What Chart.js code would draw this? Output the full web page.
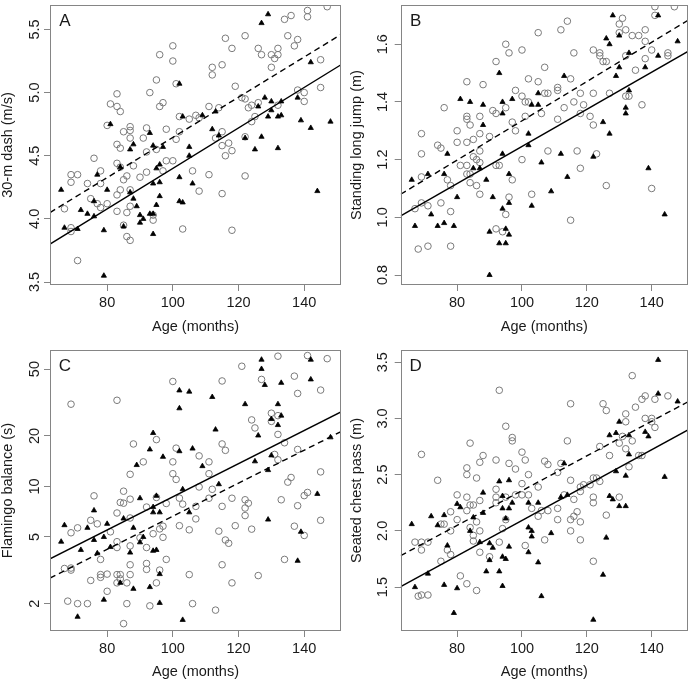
<!DOCTYPE html>
<html>
<head>
<meta charset="utf-8">
<script src="https://cdn.jsdelivr.net/npm/chart.js@4.4.1/dist/chart.umd.min.js"></script>
<style>
body{margin:0;background:#fff;}
#wrap{position:relative;width:693px;height:682px;overflow:hidden;background:#fff;}
canvas{position:absolute;}
</style>
</head>
<body>
<div id="wrap">
<canvas id="cA" width="346" height="345" style="left:0;top:0"></canvas>
<canvas id="cB" width="348" height="345" style="left:345px;top:0"></canvas>
<canvas id="cC" width="346" height="337" style="left:0;top:345px"></canvas>
<canvas id="cD" width="348" height="337" style="left:345px;top:345px"></canvas>
</div>
<script>
// ---- shared x axis ----
const xTicks = [80, 100, 120, 140];
const xRange = [62.6, 151.2];

// ---- A: 30-m dash ----
const ageCircA = [67,69,69,69,69,71,71,74,75,76,77,78,78,78,80,80,81,83,83,84,83,84,83,84,83,84,83,85,85,85,86,86,86,87,87,87,87,87,87,88,90,91,92,92,92,93,94,94,95,95,96,96,97,97,98,98,100,100,100,101,101,102,102,103,105,106,107,108,108,111,111,112,112,113,114,115,115,115,115,116,116,117,118,118,118,119,121,122,122,122,122,123,124,124,125,126,126,127,130,130,131,132,132,132,134,135,136,137,138,138,140,140,141,141,145,145,147];
const valCircA = [4.08,4.35,4.29,3.93,3.90,4.35,3.67,4.28,4.16,4.48,4.12,4.38,4.28,4.09,4.12,4.74,4.91,4.99,4.89,4.85,4.59,4.56,4.44,4.41,4.19,4.23,4.06,4.69,4.31,3.95,4.34,4.05,3.86,3.83,4.73,4.70,4.64,4.23,4.10,4.42,4.33,4.64,4.72,4.53,4.37,5.00,3.99,4.03,5.10,4.55,5.30,4.89,4.92,4.38,4.71,4.46,5.37,5.25,4.46,5.07,4.63,4.81,4.69,3.92,4.79,4.38,4.82,4.80,4.22,4.89,4.35,5.14,5.20,4.64,4.88,5.22,4.69,4.58,4.20,5.43,4.50,4.60,5.35,4.54,3.91,5.05,4.96,5.45,4.95,4.65,4.34,4.88,4.90,4.77,4.81,5.35,4.92,5.30,5.20,5.30,5.27,5.35,5.30,4.90,5.58,5.45,5.61,5.37,5.42,5.02,5.00,4.93,5.65,5.60,5.26,5.04,5.68];
const ageTriA = [66,67,71,72,74,76,76,77,79,79,80,81,84,85,87,87,88,88,89,90,90,91,93,93,94,94,94,94,95,95,96,96,96,97,102,102,102,103,103,105,105,106,109,112,113,114,122,125,126,127,127,128,129,129,130,130,132,132,133,133,138,139,142,142,144,148];
const valTriA = [4.23,3.93,3.92,4.07,4.04,4.02,4.14,4.35,3.91,3.55,4.23,4.75,4.41,3.94,4.55,4.21,4.59,4.16,4.10,4.03,3.97,4.00,4.68,4.04,4.58,4.28,4.04,3.88,4.40,4.11,4.43,4.29,4.18,4.57,5.07,4.33,4.14,4.81,4.13,4.57,4.50,4.28,4.82,4.71,4.85,4.66,4.64,4.55,4.89,5.55,4.65,4.96,5.62,4.81,4.93,4.86,4.81,4.56,4.93,4.82,4.96,4.78,4.72,5.24,4.22,4.77];
const solidA = [3.80, 5.22];
const dashedA = [4.05, 5.46];
const yTicksA = [3.5, 4.0, 4.5, 5.0, 5.5];
const yLabelsA = ["3.5", "4.0", "4.5", "5.0", "5.5"];

// ---- B: standing long jump ----
const ageCircB = [67,68,69,69,69,69,71,71,74,75,75,76,77,78,78,78,80,80,81,83,83,83,83,83,83,84,84,84,85,85,86,86,87,87,87,87,87,88,90,91,92,92,92,92,93,94,95,95,95,96,96,97,97,98,98,100,100,100,101,101,102,102,103,105,105,106,107,107,108,108,111,111,111,112,113,114,115,115,116,116,117,118,118,118,119,121,122,122,122,123,124,124,125,126,126,127,130,130,131,132,132,133,132,134,135,136,137,138,138,138,140,140,141,141,145,145,147];
const valCircB = [1.03,0.89,1.29,1.22,1.14,1.05,0.90,1.04,1.25,1.24,1.05,1.38,1.13,1.11,1.02,0.90,1.30,1.26,1.18,1.47,1.35,1.34,1.26,1.18,1.15,1.32,1.15,1.12,1.27,1.21,1.20,1.11,1.35,1.29,1.23,1.19,1.08,1.46,1.28,1.37,1.54,1.36,1.18,0.96,1.18,0.95,1.60,1.38,1.01,1.57,1.07,1.33,1.13,1.44,1.30,1.58,1.42,1.20,1.35,1.40,1.48,1.40,1.08,1.64,1.47,1.36,1.52,1.43,1.43,1.23,1.45,1.44,1.34,1.65,1.38,1.68,1.48,0.99,1.57,1.40,1.23,1.43,1.36,1.17,1.39,1.35,1.58,1.43,1.32,1.22,1.57,1.56,1.54,1.54,1.11,1.43,1.67,1.64,1.69,1.65,1.56,1.42,1.42,1.63,1.51,1.63,1.39,1.65,1.61,1.55,1.58,1.10,1.73,1.70,1.57,1.56,1.73];
const ageTriB = [66,67,71,72,74,76,76,77,79,80,81,84,85,87,88,88,89,90,90,91,93,93,94,94,94,94,95,95,96,96,96,97,102,102,103,103,105,105,106,109,112,113,114,122,125,126,127,127,128,129,130,130,132,132,133,133,138,139,142,142,144,148];
const valTriB = [1.13,0.97,1.15,1.01,0.97,1.15,0.98,1.22,0.97,1.07,1.41,1.40,1.17,1.17,1.39,1.32,1.13,0.95,0.80,1.07,1.50,0.91,1.40,1.36,1.22,1.03,0.96,0.91,1.15,1.05,0.94,1.41,1.29,1.25,1.39,1.04,1.39,1.43,1.19,1.09,1.22,1.49,1.14,1.21,1.33,1.62,1.60,1.29,1.70,1.49,1.63,1.52,1.36,1.38,1.57,1.44,1.52,1.17,1.70,1.56,1.01,1.61];
const solidB = [1.005, 1.575];
const dashedB = [1.08, 1.683];
const yTicksB = [0.8, 1.0, 1.2, 1.4, 1.6];
const yLabelsB = ["0.8", "1.0", "1.2", "1.4", "1.6"];

// ---- C: flamingo balance (log) ----
const ageCircC = [68,69,69,69,69,67,71,71,74,75,75,76,77,78,78,78,80,80,81,83,83,83,83,83,83,84,84,84,85,85,85,86,86,87,87,87,87,87,87,88,90,91,92,92,92,92,93,94,95,95,95,96,96,97,97,98,98,100,100,100,101,101,102,102,103,105,105,106,107,107,108,108,111,111,111,112,113,114,115,115,115,115,116,116,117,118,118,119,121,122,122,122,123,124,124,125,126,127,130,130,131,132,132,132,132,133,134,134,135,136,137,137,138,138,138,140,140,141,141,145,145,145,147];
const valCircC = [2.07,30.9,5.29,3.26,3.17,3.24,5.66,2.0,2.0,2.75,6.28,8.78,5.98,3.67,2.98,2.87,3.0,2.37,5.36,32.6,6.94,4.68,4.32,2.98,2.66,8.02,2.98,2.81,9.36,7.94,1.52,2.66,2.0,11.8,8.39,6.48,4.42,3.41,2.98,17.9,4.94,14.0,7.53,4.32,3.47,3.20,1.94,5.22,19.0,8.59,2.66,5.58,3.17,5.79,4.97,7.91,3.67,42.2,14.0,11.9,11.0,16.9,8.51,5.83,7.84,5.51,2.98,2.0,6.40,7.60,9.92,15.2,14.0,11.9,8.5,9.61,1.83,5.41,17.9,42.5,7.6,3.41,16.4,4.79,4.58,2.66,8.5,5.83,52.0,8.32,7.43,6.70,7.94,24.9,5.56,22.3,2.94,43.4,27.3,24.4,15.5,59.7,26.4,20.4,14.4,8.32,18.2,3.67,10.6,11.3,45.4,5.79,35.8,16.6,7.67,8.81,5.10,9.2,60.2,12.2,37.5,6.28,57.7];
const ageTriC = [66,67,71,72,74,76,76,77,79,79,80,81,84,85,87,88,88,89,90,90,91,93,93,94,94,94,94,95,95,96,96,96,97,102,102,102,103,103,105,105,106,109,112,113,114,122,125,126,127,127,128,129,129,130,130,132,132,133,133,138,139,142,142,144,148];
const valTriC = [4.68,5.87,1.67,4.18,5.66,7.19,4.79,3.99,4.99,2.11,5.98,4.35,2.66,6.43,4.03,5.66,2.45,13.4,8.5,4.64,4.99,16.6,2.51,20.8,7.53,7.0,4.13,8.78,4.18,7.0,3.0,2.02,15.0,37.3,29.2,16.2,9.61,1.60,36.7,7.0,16.8,13.2,34.1,21.8,10.3,30.9,14.1,20.1,56.9,50.1,40.2,12.5,6.34,25.2,15.3,30.9,23.2,26.4,41.4,3.60,5.36,56.9,43.4,9.02,19.6];
const solidC = [3.70, 27.8];
const dashedC = [2.84, 21.2];
const yTicksC = [2, 5, 10, 20, 50];
const yLabelsC = ["2", "5", "10", "20", "50"];

// ---- D: seated chest pass ----
const ageCircD = [67,68,69,69,69,69,71,71,74,75,75,76,77,78,78,78,80,80,81,83,83,83,83,83,84,84,84,85,85,85,86,86,86,87,87,87,87,88,90,92,92,92,92,93,93,94,95,95,95,96,97,97,98,98,100,100,100,101,101,102,102,103,105,105,106,107,107,108,108,111,111,111,112,113,114,115,115,115,115,116,116,117,118,118,118,118,119,121,122,122,122,122,123,124,124,125,126,126,127,130,130,131,132,132,132,133,134,134,135,136,137,137,138,138,140,140,141,141,145];
const valCircD = [1.90,1.42,1.90,1.83,2.68,1.43,1.90,1.43,2.45,1.73,2.06,2.06,1.83,2.17,2.00,1.79,2.32,2.10,1.60,2.56,2.50,2.30,2.18,1.53,2.78,2.23,2.03,2.23,1.96,1.91,2.47,2.08,1.47,2.61,2.27,2.00,1.81,2.67,1.77,2.63,2.37,2.30,2.25,3.25,1.90,2.02,2.93,2.30,2.10,2.60,2.83,2.80,2.55,2.32,2.70,2.42,2.32,2.63,1.87,2.50,2.32,2.20,2.39,2.13,2.18,2.62,1.92,2.59,2.18,2.52,2.20,2.10,2.60,2.32,2.80,3.13,2.45,2.10,2.00,2.28,2.13,2.17,2.39,2.35,2.08,1.92,2.41,2.41,2.47,2.30,2.25,1.73,2.47,2.75,2.44,3.13,3.07,2.14,2.67,2.78,2.30,2.84,3.04,2.97,2.73,2.57,2.80,3.38,3.10,2.67,2.67,3.17,3.20,3.00,2.97,3.00,3.17,2.92,3.20];
const ageTriD = [66,67,71,72,74,76,76,77,79,80,80,81,84,85,87,88,88,89,90,90,91,93,93,94,94,94,94,95,95,96,96,96,97,102,102,102,103,103,105,105,106,109,112,113,114,122,125,126,127,127,128,129,129,130,130,132,132,133,133,138,139,142,142,144,148];
const valTriD = [2.06,1.50,1.62,2.13,2.05,2.14,1.52,1.87,1.27,2.24,1.49,2.21,2.00,2.12,1.90,2.34,2.16,1.64,1.89,1.74,1.85,2.44,1.64,2.31,2.20,1.77,1.51,2.11,1.75,2.45,2.20,1.86,2.25,2.25,2.03,1.81,2.00,1.95,2.25,1.72,1.42,1.98,2.30,2.60,2.32,1.21,1.61,1.94,2.85,2.31,2.28,2.87,2.53,2.97,2.22,2.49,2.22,2.85,2.68,2.88,2.84,3.52,3.22,2.48,3.15];
const solidD = [1.505, 2.898];
const dashedD = [1.78, 3.148];
const yTicksD = [1.5, 2.0, 2.5, 3.0, 3.5];
const yLabelsD = ["1.5", "2.0", "2.5", "3.0", "3.5"];

Chart.defaults.font.family = "'Liberation Sans', Arial, sans-serif";
Chart.defaults.color = "#1a1a1a";

const textCol = "#1a1a1a";
const axisCol = "#858585";

// box round the plot, the panel letter and the rotated y tick labels
const framePlugin = {
  id: "frame",
  afterDraw(chart, args, o) {
    const ctx = chart.ctx;
    const a = chart.chartArea;
    const ys = chart.scales.y;
    ctx.save();
    ctx.strokeStyle = axisCol;
    ctx.lineWidth = 1;
    const l = Math.round(a.left) + 0.5, t = Math.round(a.top) + 0.5;
    const r = Math.round(a.right) - 0.5, b = Math.round(a.bottom) - 0.5;
    ctx.strokeRect(l, t, r - l, b - t);

    ctx.fillStyle = textCol;
    ctx.font = "14.5px 'Liberation Sans', Arial, sans-serif";
    ctx.textAlign = "center";
    ctx.textBaseline = "middle";
    o.ticks.forEach((v, i) => {
      const y = ys.getPixelForValue(v);
      ctx.save();
      ctx.translate(a.left - o.labelGap, y);
      ctx.rotate(-Math.PI / 2);
      ctx.fillText(o.labels[i], 0, 0);
      ctx.restore();
    });

    ctx.font = "17px 'Liberation Sans', Arial, sans-serif";
    ctx.fillText(o.letter, a.left + 15, a.top + 16);
    ctx.restore();
  }
};

function pts(ages, vals) {
  return ages.map((x, i) => ({x: x, y: vals[i]}));
}

function makePanel(id, p) {
  const tickGrid = {display: true, drawOnChartArea: false, drawTicks: true, tickLength: 6, color: axisCol, lineWidth: 1};
  return new Chart(document.getElementById(id), {
    type: "scatter",
    data: {
      datasets: [
        {type: "line", data: pts(xRange, p.solid), borderColor: "#000", borderWidth: 1.4, pointRadius: 0, fill: false, order: 0},
        {type: "line", data: pts(xRange, p.dashed), borderColor: "#000", borderWidth: 1.4, borderDash: [6, 4], pointRadius: 0, fill: false, order: 0},
        {data: pts(p.triAge, p.triVal), pointStyle: "triangle", pointRadius: 3, borderWidth: 0.8, borderColor: "#000", backgroundColor: "#000", order: 1},
        {data: pts(p.circAge, p.circVal), pointStyle: "circle", pointRadius: 3.3, borderWidth: 1, borderColor: "#7a7a7a", backgroundColor: "rgba(0,0,0,0)", order: 2}
      ]
    },
    options: {
      responsive: false,
      animation: false,
      devicePixelRatio: 1,
      layout: {padding: {top: p.padTop, right: p.padRight, left: 0, bottom: 0}},
      plugins: {
        legend: {display: false},
        tooltip: {enabled: false},
        frame: {ticks: p.yTicks, labels: p.yLabels, letter: p.letter, labelGap: p.labelGap}
      },
      scales: {
        x: {
          type: "linear",
          min: xRange[0],
          max: xRange[1],
          afterBuildTicks: s => { s.ticks = xTicks.map(v => ({value: v})); },
          afterFit: s => { s.height = p.xHeight; },
          grid: tickGrid,
          border: {display: false},
          ticks: {color: textCol, font: {size: 14.5}, padding: 3, maxRotation: 0, autoSkip: false},
          title: {display: true, text: "Age (months)", color: textCol, font: {size: 14.5}, padding: {top: 0, bottom: p.xTitlePad}}
        },
        y: {
          type: p.log ? "logarithmic" : "linear",
          min: p.yMin,
          max: p.yMax,
          afterBuildTicks: s => { s.ticks = p.yTicks.map(v => ({value: v})); },
          afterFit: s => { s.width = p.yWidth; },
          grid: tickGrid,
          border: {display: false},
          ticks: {display: false},
          title: {display: true, text: p.yTitle, color: textCol, font: {size: 14.5}, padding: {top: p.yTitlePad, bottom: 0}}
        }
      }
    },
    plugins: [framePlugin]
  });
}

makePanel("cA", {
  circAge: ageCircA, circVal: valCircA, triAge: ageTriA, triVal: valTriA,
  solid: solidA, dashed: dashedA, yTicks: yTicksA, yLabels: yLabelsA,
  yMin: 3.4765, yMax: 5.6935, letter: "A", yTitle: "30-m dash (m/s)",
  padTop: 2, padRight: 5, xHeight: 60, yWidth: 50, xTitlePad: 9.3, yTitlePad: -1, labelGap: 15
});
makePanel("cB", {
  circAge: ageCircB, circVal: valCircB, triAge: ageTriB, triVal: valTriB,
  solid: solidB, dashed: dashedB, yTicks: yTicksB, yLabels: yLabelsB,
  yMin: 0.7654, yMax: 1.736, letter: "B", yTitle: "Standing long jump (m)",
  padTop: 2, padRight: 4, xHeight: 60, yWidth: 55.7, xTitlePad: 9.3, yTitlePad: 3, labelGap: 17.3
});
makePanel("cC", {
  circAge: ageCircC, circVal: valCircC, triAge: ageTriC, triVal: valTriC,
  solid: solidC, dashed: dashedC, yTicks: yTicksC, yLabels: yLabelsC, log: true,
  yMin: 1.374, yMax: 65.0, letter: "C", yTitle: "Flamingo balance (s)",
  padTop: 2, padRight: 5, xHeight: 51, yWidth: 50, xTitlePad: 1.6, yTitlePad: -1, labelGap: 15.5
});
makePanel("cD", {
  circAge: ageCircD, circVal: valCircD, triAge: ageTriD, triVal: valTriD,
  solid: solidD, dashed: dashedD, yTicks: yTicksD, yLabels: yLabelsD,
  yMin: 1.11, yMax: 3.608, letter: "D", yTitle: "Seated chest pass (m)",
  padTop: 2, padRight: 4, xHeight: 51, yWidth: 55.7, xTitlePad: 1.6, yTitlePad: 3, labelGap: 17.4
});
</script>
</body>
</html>
